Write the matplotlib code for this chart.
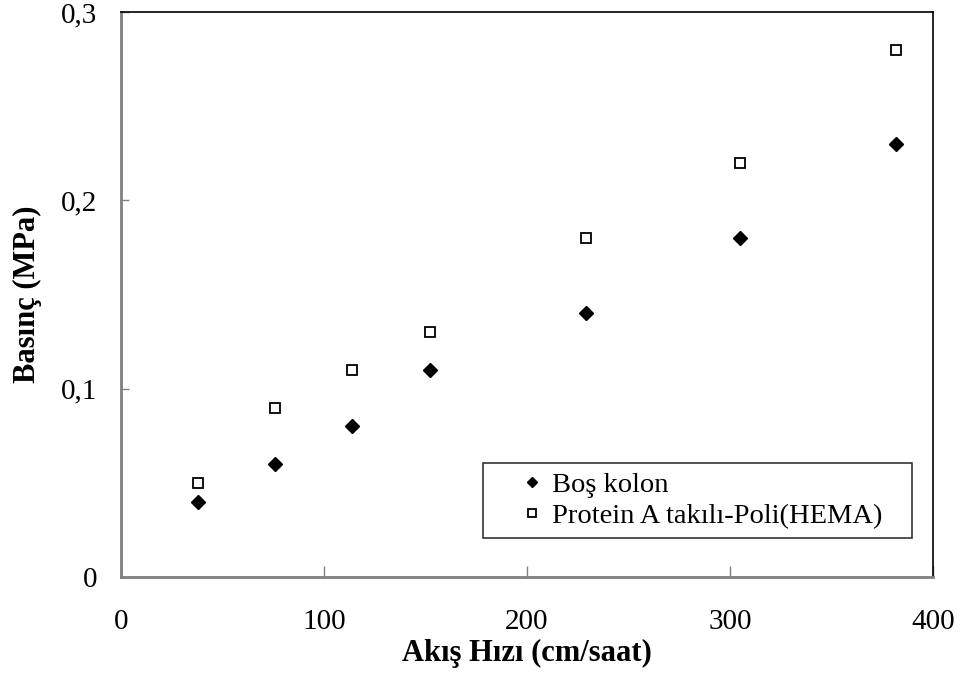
import matplotlib
matplotlib.use("Agg")
import matplotlib.pyplot as plt
from matplotlib.ticker import FuncFormatter

plt.rcParams['font.family'] = ['Liberation Serif', 'DejaVu Serif']

# Flow rate (cm/saat) and pressure (MPa)
akis_hizi = [38, 76, 114, 152, 229, 305, 382]
bos_kolon = [0.04, 0.06, 0.08, 0.11, 0.14, 0.18, 0.23]
protein_a = [0.05, 0.09, 0.11, 0.13, 0.18, 0.22, 0.28]

x_ticks = [0, 100, 200, 300, 400]
y_ticks = [0, 0.1, 0.2, 0.3]

fig = plt.figure(figsize=(9.64, 6.91), dpi=100)
ax = fig.add_axes([121 / 964, 1 - 577 / 691, (933 - 121) / 964, (577 - 12) / 691])

ax.plot(akis_hizi, bos_kolon, linestyle='none', marker='D', markersize=7,
        color='black', label='Boş kolon')
ax.plot(akis_hizi, protein_a, linestyle='none', marker='s', markersize=7,
        markerfacecolor='white', markeredgecolor='black', markeredgewidth=1.3,
        label='Protein A takılı-Poli(HEMA)')

ax.set_xlim(0, 400)
ax.set_ylim(0, 0.3)
ax.set_xticks(x_ticks)
ax.set_yticks(y_ticks)
ax.yaxis.set_major_formatter(FuncFormatter(lambda v, p: f"{v:g}".replace('.', ',')))

for side in ('left', 'bottom'):
    ax.spines[side].set_color('#808080')
    ax.spines[side].set_linewidth(2)
for side in ('top', 'right'):
    ax.spines[side].set_color('black')
    ax.spines[side].set_linewidth(1.2)

ax.tick_params(axis='both', direction='in', color='#808080', width=1,
               labelsize=21, labelcolor='black')
ax.tick_params(axis='x', length=8, pad=23)
ax.tick_params(axis='y', length=6, pad=17)

ax.set_xlabel('Akış Hızı (cm/saat)', fontsize=22, fontweight='bold', labelpad=3)
ax.set_ylabel('Basınç (MPa)', fontsize=22, fontweight='bold', labelpad=14)

leg = ax.legend(loc='lower left',
                bbox_to_anchor=(483 / 964, 1 - 538 / 691, 429 / 964, 81 / 691),
                bbox_transform=fig.transFigure, mode='expand',
                fontsize=20.5, frameon=True, fancybox=False, edgecolor='black',
                handlelength=2.84, handletextpad=-0.72, borderpad=0.3,
                labelspacing=0.2, borderaxespad=0)
leg.get_frame().set_linewidth(1.2)
for h in leg.legend_handles:
    h.set_markersize(5.5)

fig.savefig('out.png', dpi=100)
